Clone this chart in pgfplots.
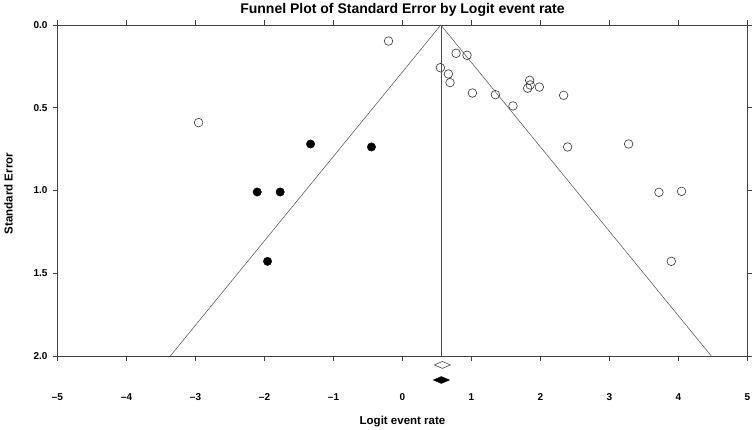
\documentclass[border=0pt]{standalone}
\usepackage{fontspec}
\setmainfont{Liberation Sans}
\usepackage{pgfplots}
\pgfplotsset{compat=1.18}

% observed studies (open) and imputed studies (filled)
\pgfplotstableread{
x      se
-0.203 0.097
0.776  0.171
0.935  0.183
0.549  0.258
0.665  0.296
0.689  0.348
1.013  0.411
1.346  0.421
1.601  0.489
1.843  0.334
1.850  0.362
1.814  0.382
1.983  0.375
2.335  0.425
2.393  0.737
3.277  0.719
3.716  1.011
4.044  1.005
3.895  1.428
-2.955 0.590
}\observed
\pgfplotstableread{
x      se
-1.333 0.719
-0.450 0.737
-2.106 1.009
-1.773 1.009
-1.956 1.428
}\imputed

\begin{document}
\begin{tikzpicture}
\begin{axis}[
    scale only axis,
    width=690pt, height=331pt,
    xmin=-5, xmax=5,
    ymin=0, ymax=2,
    y dir=reverse,
    clip=false,
    axis line style={black!75, line width=0.6pt},
    tick style={black!75, line width=0.6pt},
    major tick length=4.5pt,
    tick align=outside,
    xtick={-5,-4,...,5},
    xticklabels={–5,–4,–3,–2,–1,0,1,2,3,4,5},
    ytick={0,0.5,1,1.5,2},
    yticklabels={0.0,0.5,1.0,1.5,2.0},
    tick label style={font=\fontsize{10}{12}\selectfont\bfseries},
    xticklabel style={anchor=base, yshift=-40pt},
    yticklabel style={anchor=east, xshift=-2pt},
    title={Funnel Plot of Standard Error by Logit event rate},
    title style={font=\fontsize{14}{16}\selectfont\bfseries, at={(axis description cs:0.5,1)}, anchor=base, yshift=5pt},
    xlabel={Logit event rate},
    xlabel style={font=\fontsize{11.5}{13}\selectfont\bfseries, at={(axis description cs:0.5,0)}, anchor=base, yshift=-68pt},
    ylabel={Standard Error},
    ylabel style={font=\fontsize{11.5}{13}\selectfont\bfseries, at={(axis description cs:0,0.491)}, anchor=center, yshift=49pt},
]
% funnel and mean line
\addplot[black!70, line width=0.5pt] coordinates {(-3.365,2) (0.555,0) (4.475,2)};
\addplot[black!70, line width=0.5pt] coordinates {(0.555,0) (0.555,2)};
% studies
\addplot[only marks, mark=o, mark size=4.3pt, mark options={draw=black!80, line width=0.6pt, fill=white}] table[x=x, y=se] {\observed};
\addplot[only marks, mark=*, mark size=4.2pt, mark options={draw=black, fill=black}] table[x=x, y=se] {\imputed};
% summary diamonds
\addplot[draw=black!80, line width=0.5pt, fill=white] coordinates {(0.462,2.054) (0.578,2.033) (0.694,2.054) (0.578,2.075)} -- cycle;
\addplot[draw=black, fill=black] coordinates {(0.448,2.145) (0.564,2.124) (0.680,2.145) (0.564,2.166)} -- cycle;
\end{axis}
\pgfresetboundingbox
\path[use as bounding box] (-57.5pt,-74pt) rectangle (696.5pt,356pt);
\end{tikzpicture}
\end{document}
